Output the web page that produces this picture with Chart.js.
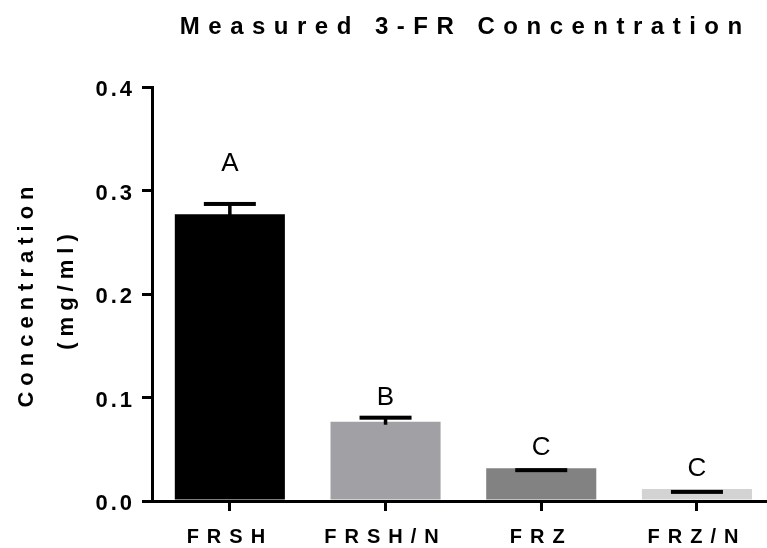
<!DOCTYPE html>
<html>
<head>
<meta charset="utf-8">
<title>Measured 3-FR Concentration</title>
<script src="https://cdn.jsdelivr.net/npm/chart.js@4.4.1/dist/chart.umd.min.js"></script>
<style>
    html, body { margin: 0; padding: 0; background: #fff; }
    canvas { display: block; }
</style>
</head>
<body>
<canvas id="concChart" width="767" height="548"></canvas>
<script>
// Data
const categories = ['FRSH', 'FRSH/N', 'FRZ', 'FRZ/N'];
const means = [0.277, 0.0766, 0.0316, 0.0116];
const errTop = [0.287, 0.0805, 0.0298, 0.0088];
const groupLetters = ['A', 'B', 'C', 'C'];
const letterAt = [0.319, 0.093, 0.0444, 0.0244];
const yTicks = [0, 0.1, 0.2, 0.3, 0.4];
const barColors = ['#000000', '#a1a1a5', '#828282', '#d3d3d3'];

const FONT = "'Liberation Sans', Arial, Helvetica, sans-serif";
Chart.defaults.font.family = FONT;
Chart.defaults.color = '#000';

// letterSpacing also adds a gap after the last glyph, drop it when centring
function spacedWidth(ctx, text, spacing) {
    return ctx.measureText(text).width - spacing;
}

// Error bars, group letters, title and y axis title
const extras = {
    id: 'extras',
    beforeDraw(chart) {
        chart.ctx.letterSpacing = '3px'; // y tick labels
    },
    afterDatasetsDraw(chart) {
        const ctx = chart.ctx;
        const xs = chart.scales.x;
        const ys = chart.scales.y;
        ctx.save();
        ctx.fillStyle = '#000';
        means.forEach((m, i) => {
            const x = xs.getPixelForValue(i);
            const yTop = ys.getPixelForValue(errTop[i]);
            const yMean = ys.getPixelForValue(m);
            if (yTop < yMean) {
                ctx.fillRect(x - 1.75, yTop, 3.5, yMean - yTop + 3);
            }
            ctx.fillRect(x - 26, yTop - 2, 52, 4);
        });
        ctx.restore();
        chart.ctx.letterSpacing = '8px'; // x tick labels (drawn after datasets)
    },
    afterDraw(chart) {
        const ctx = chart.ctx;
        const xs = chart.scales.x;
        const ys = chart.scales.y;
        ctx.save();
        ctx.fillStyle = '#000';

        // significance letters
        ctx.letterSpacing = '0px';
        ctx.font = '26px ' + FONT;
        ctx.textAlign = 'center';
        ctx.textBaseline = 'alphabetic';
        groupLetters.forEach((t, i) => {
            ctx.fillText(t, xs.getPixelForValue(i), ys.getPixelForValue(letterAt[i]));
        });

        // title
        ctx.letterSpacing = '8.5px';
        ctx.font = 'bold 24px ' + FONT;
        ctx.textAlign = 'left';
        const title = 'Measured 3-FR Concentration';
        const tw = spacedWidth(ctx, title, 8.5);
        ctx.fillText(title, 461 - tw / 2, 34);

        // y axis title, two lines
        ctx.letterSpacing = '6px';
        ctx.font = 'bold 22px ' + FONT;
        const lines = [['Concentration', 33, 297], ['(mg/ml)', 73, 292]];
        lines.forEach(([txt, bx, cy]) => {
            const w = spacedWidth(ctx, txt, 6);
            ctx.save();
            ctx.translate(bx, cy);
            ctx.rotate(-Math.PI / 2);
            ctx.fillText(txt, -w / 2, 0);
            ctx.restore();
        });
        ctx.restore();
    }
};

const ctx = document.getElementById('concChart').getContext('2d');

const chart = new Chart(ctx, {
    type: 'bar',
    data: {
        datasets: [{
            data: means.map((v, i) => ({ x: i, y: v })),
            backgroundColor: barColors,
            borderWidth: 0,
            barPercentage: 0.707,
            categoryPercentage: 1
        }]
    },
    options: {
        responsive: false,
        animation: false,
        layout: {
            padding: { top: 87, left: 0, right: 0, bottom: 0 }
        },
        plugins: {
            legend: { display: false },
            tooltip: { enabled: false },
            title: { display: false }
        },
        scales: {
            x: {
                type: 'linear',
                min: -0.5,
                max: 3.45,
                offset: false,
                afterBuildTicks: scale => {
                    scale.ticks = categories.map((c, i) => ({ value: i }));
                },
                afterFit: scale => { scale.height = 47; },
                grid: {
                    offset: false,
                    drawOnChartArea: false,
                    drawTicks: true,
                    tickLength: 10,
                    lineWidth: 3,
                    color: '#000'
                },
                border: { width: 3, color: '#000' },
                ticks: {
                    callback: v => categories[v],
                    font: { size: 20, weight: 'bold' },
                    color: '#000',
                    padding: 14,
                    maxRotation: 0,
                    autoSkip: false,
                    z: 1
                }
            },
            y: {
                min: 0,
                max: 0.4,
                afterBuildTicks: scale => {
                    scale.ticks = yTicks.map(v => ({ value: v }));
                },
                afterFit: scale => { scale.width = 152; },
                grid: {
                    drawOnChartArea: false,
                    drawTicks: true,
                    tickLength: 10,
                    lineWidth: 3,
                    color: '#000'
                },
                border: { width: 3, color: '#000' },
                ticks: {
                    callback: v => v.toFixed(1),
                    font: { size: 22, weight: 'bold' },
                    color: '#000',
                    padding: 7,
                    labelOffset: 3
                }
            }
        }
    },
    plugins: [extras]
});
</script>
</body>
</html>
